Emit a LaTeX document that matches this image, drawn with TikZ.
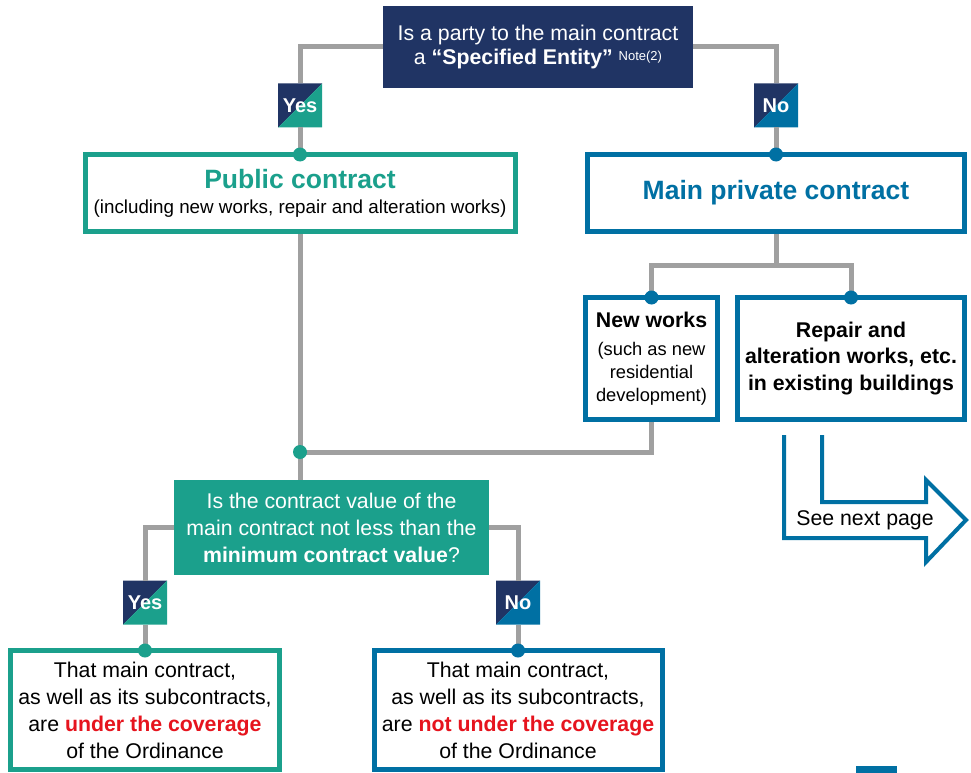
\documentclass[tikz,border=0pt]{standalone}
\usepackage{fontspec}
\setmainfont{Liberation Sans}
\definecolor{navy1}{RGB}{32, 52, 100}
\definecolor{teal1}{RGB}{27, 160, 140}
\definecolor{blue1}{RGB}{0, 112, 163}
\definecolor{line1}{RGB}{160, 160, 160}
\definecolor{red1}{RGB}{230, 20, 30}
\usetikzlibrary{calc}

\newcommand{\bodysize}{\fontsize{21.3}{27}\selectfont}
\newcommand{\subsize}{\fontsize{18.3}{23}\selectfont}
\newcommand{\titlesize}{\fontsize{26.5}{32}\selectfont}

\tikzset{
  conn/.style={draw=line1, line width=5pt},
  qbox/.style={fill=#1, text=white, align=center, inner sep=0pt, outer sep=0pt, font=\bodysize},
  rbox/.style={draw=#1, fill=white, line width=5pt, align=center, inner sep=0pt, font=\bodysize},
  badge/.style={minimum size=44, inner sep=0pt, outer sep=0pt, text=white, font=\fontsize{20}{20}\selectfont\bfseries,
    path picture={
      \fill[navy1] (path picture bounding box.south west) -- (path picture bounding box.north west)
        -- (path picture bounding box.north east) -- cycle;
      \fill[#1] (path picture bounding box.south west) -- (path picture bounding box.north east)
        -- (path picture bounding box.south east) -- cycle;
    }}
}

\begin{document}
\begin{tikzpicture}[x=1pt, y=-1pt]
  \useasboundingbox (0,0) rectangle (971,773);

  % first question
  \node[qbox=navy1, minimum width=310, minimum height=82, font=\fontsize{21.3}{24}\selectfont] (q1) at (538,47)
    {Is a party to the main contract\\a \textbf{“Specified Entity”} {\fontsize{13}{13}\selectfont\raisebox{4pt}{Note(2)}}};
  \node[badge=teal1] (yes1) at (300,105.5) {Yes};
  \node[badge=blue1] (no1) at (776,105.5) {No};

  % public / private
  \node[rbox=teal1, minimum width=430, minimum height=77] (pub) at (300,193)
    {{\titlesize\bfseries\color{teal1}Public contract}\\[-2pt]{\fontsize{18.8}{23}\selectfont(including new works, repair and alteration works)}};
  \node[rbox=blue1, minimum width=377, minimum height=77] (priv) at (776,193)
    {\titlesize\bfseries\color{blue1}Main private contract};

  \node[rbox=blue1, minimum width=132, minimum height=122, font=\subsize] (newb) at (651.5,358.5)
    {\textbf{\bodysize New works}\\[5pt](such as new\\residential\\development)};
  \node[rbox=blue1, minimum width=227, minimum height=122, font=\fontsize{21.3}{26.5}\selectfont\bfseries] (rep) at (851,358.5)
    {Repair and\\alteration works, etc.\\in existing buildings};

  % see next page
  \draw[blue1, line width=4pt, miter limit=4] (822,435) -- (822,502) -- (926,502) -- (926,480) -- (966,520)
    -- (926,562) -- (926,538) -- (784,538) -- (784,435);
  \node[font=\fontsize{21.3}{24}\selectfont] (next) at (865,520) {See next page};

  % second question
  \node[qbox=teal1, minimum width=315, minimum height=95] (q2) at (331.5,527.5)
    {Is the contract value of the\\main contract not less than the\\\textbf{minimum contract value}?};
  \node[badge=teal1] (yes2) at (145,602.5) {Yes};
  \node[badge=blue1] (no2) at (518,602.5) {No};

  % results
  \node[rbox=teal1, minimum width=269, minimum height=119] (res1) at (145,710)
    {That main contract,\\as well as its subcontracts,\\are \textcolor{red1}{\textbf{under the coverage}}\\of the Ordinance};
  \node[rbox=blue1, minimum width=288, minimum height=119] (res2) at (518,710)
    {That main contract,\\as well as its subcontracts,\\are \textcolor{red1}{\textbf{not under the coverage}}\\of the Ordinance};

  \fill[blue1] (856,766) rectangle (897,773);

  % connectors
  \coordinate (split) at (776,265);
  \coordinate (junc) at (300,452);
  \draw[conn] (q1.west) -| (yes1.north);
  \draw[conn] (yes1.south) -- (pub.north);
  \draw[conn] (q1.east) -| (no1.north);
  \draw[conn] (no1.south) -- (priv.north);
  \draw[conn] (priv.south) -- (split);
  \draw[conn] (newb.north) |- (split) -| (rep.north);
  \draw[conn] (pub.south) -- (q2.north -| pub.south);
  \draw[conn] (newb.south) |- (junc);
  \draw[conn] (q2.west) -| (yes2.north);
  \draw[conn] (yes2.south) -- (res1.north);
  \draw[conn] (q2.east) -| (no2.north);
  \draw[conn] (no2.south) -- (res2.north);

  % dots
  \fill[teal1] ([yshift=-2.5pt]pub.north) circle (7pt);
  \fill[blue1] ([yshift=-2.5pt]priv.north) circle (7pt);
  \fill[blue1] ([yshift=-2.5pt]newb.north) circle (7pt);
  \fill[blue1] ([yshift=-2.5pt]rep.north) circle (7pt);
  \fill[teal1] (junc) circle (7pt);
  \fill[teal1] ([yshift=-2.5pt]res1.north) circle (7pt);
  \fill[blue1] ([yshift=-2.5pt]res2.north) circle (7pt);
\end{tikzpicture}
\end{document}
